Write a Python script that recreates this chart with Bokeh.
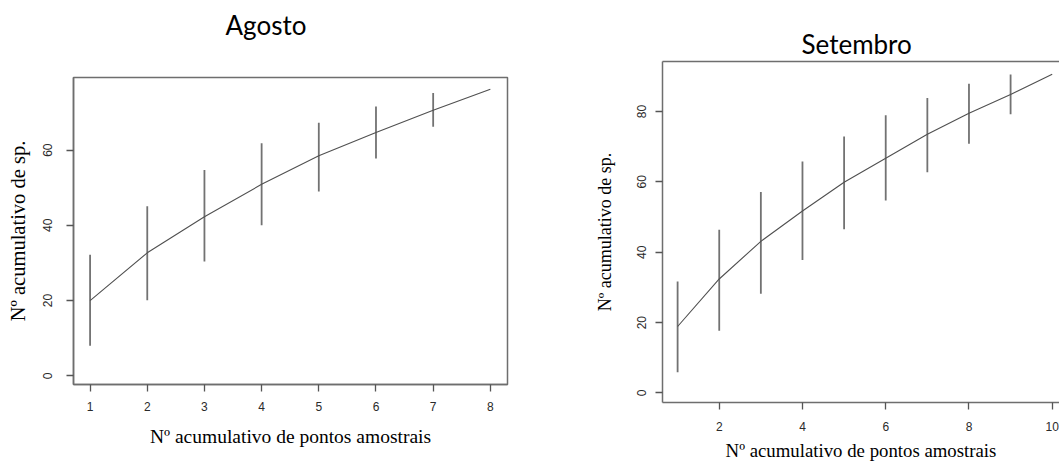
from bokeh.plotting import figure
from bokeh.layouts import row
from bokeh.models import Range1d, FixedTicker, LinearAxis, Title
from bokeh.embed import file_html
from bokeh.resources import INLINE

# ---- data: Agosto ----
ago_x = [1, 2, 3, 4, 5, 6, 7, 8]
ago_mean = [20.0, 32.7, 42.3, 50.9, 58.5, 64.7, 70.6, 76.2]
ago_bar_x = [1, 2, 3, 4, 5, 6, 7]
ago_upper = [32.2, 45.1, 54.7, 61.8, 67.3, 71.6, 75.2]
ago_lower = [8.0, 20.1, 30.4, 40.0, 49.0, 57.8, 66.2]
ago_xticks = [1, 2, 3, 4, 5, 6, 7, 8]
ago_yticks = [0, 20, 40, 60]

# ---- data: Setembro ----
set_x = [1, 2, 3, 4, 5, 6, 7, 8, 9, 10]
set_mean = [18.9, 32.4, 43.1, 51.7, 59.9, 66.7, 73.5, 79.5, 84.8, 90.6]
set_bar_x = [1, 2, 3, 4, 5, 6, 7, 8, 9]
set_upper = [31.7, 46.4, 57.1, 65.8, 72.9, 78.9, 83.8, 87.9, 90.5]
set_lower = [5.9, 17.7, 28.2, 37.8, 46.5, 54.7, 62.7, 70.8, 79.2]
set_xticks = [2, 4, 6, 8, 10]
set_yticks = [0, 20, 40, 60, 80]

x_label = "Nº acumulativo de pontos amostrais"
y_label = "Nº acumulativo de sp."
titles = ["Agosto", "Setembro"]

BOX = "#6e6e6e"
BAR = "#727272"
CURVE = "#505050"
TICKLBL = "#2a2a2a"


def style_axis(ax, size_lbl, lbl_standoff, tick_standoff):
    ax.axis_line_color = BOX
    ax.axis_line_width = 1.5
    ax.major_tick_line_color = "#555555"
    ax.major_tick_line_width = 1.3
    ax.major_tick_out = 7
    ax.major_tick_in = 0
    ax.minor_tick_line_color = None
    ax.minor_tick_out = 0
    ax.major_label_text_font = "Liberation Sans"
    ax.major_label_text_font_size = "12px"
    ax.major_label_text_color = TICKLBL
    ax.major_label_standoff = tick_standoff
    ax.axis_label_text_font = "Liberation Serif"
    ax.axis_label_text_font_size = size_lbl
    ax.axis_label_text_font_style = "normal"
    ax.axis_label_text_color = "black"
    ax.axis_label_standoff = lbl_standoff


def make_title(text, offset, standoff):
    return Title(text=text, text_font="Lato", text_font_size="26px",
                 text_font_style="normal", text_color="black",
                 align="left", offset=offset, standoff=standoff,
                 vertical_align="bottom")


# ---- left plot ----
p1 = figure(width=530, height=464, output_backend="svg", toolbar_location=None,
            x_range=Range1d(0.71, 8.30), y_range=Range1d(-2.3, 79.3), frame_align=False,
            min_border_left=73, min_border_right=23, min_border_top=77, min_border_bottom=80)
p1.title.text = ""
p1.grid.visible = False
p1.outline_line_color = BOX
p1.outline_line_width = 1.5
p1.background_fill_color = "white"
p1.border_fill_color = "white"
p1.xaxis.ticker = FixedTicker(ticks=ago_xticks)
p1.yaxis.ticker = FixedTicker(ticks=ago_yticks)
p1.xaxis.axis_label = x_label
p1.yaxis.axis_label = y_label
style_axis(p1.xaxis[0], "19.5px", 12, 10)
style_axis(p1.yaxis[0], "20.5px", 12, 14)
p1.yaxis.major_label_orientation = "vertical"
p1.segment(x0=ago_bar_x, y0=ago_lower, x1=ago_bar_x, y1=ago_upper,
           line_color=BAR, line_width=1.8)
p1.line(ago_x, ago_mean, line_color=CURVE, line_width=1.1)
# spacer (nearest the frame) pushes the title up
p1.add_layout(Title(text=" ", text_font_size="1px", standoff=34), "above")
p1.add_layout(make_title(titles[0], 152, 0), "above")

# ---- right plot ----
p2 = figure(width=529, height=464, output_backend="svg", toolbar_location=None,
            x_range=Range1d(0.637, 10.175), y_range=Range1d(-2.7, 94.2), frame_align=False,
            min_border_left=132, min_border_right=0, min_border_top=61, min_border_bottom=62)
p2.title.text = ""
p2.grid.visible = False
p2.outline_line_color = None
p2.background_fill_color = "white"
p2.border_fill_color = "white"
p2.xaxis.ticker = FixedTicker(ticks=set_xticks)
p2.yaxis.ticker = FixedTicker(ticks=set_yticks)
p2.xaxis.axis_label = x_label
p2.yaxis.axis_label = y_label
style_axis(p2.xaxis[0], "18.8px", 6, 12)
style_axis(p2.yaxis[0], "18px", 20, 9)
p2.yaxis.major_label_orientation = "vertical"
top_ax = LinearAxis(ticker=FixedTicker(ticks=[]))
top_ax.axis_line_color = BOX
top_ax.axis_line_width = 1.5
top_ax.major_tick_line_color = None
top_ax.minor_tick_line_color = None
top_ax.major_tick_out = 0
top_ax.minor_tick_out = 0
top_ax.major_label_standoff = 0
top_ax.axis_label_standoff = 0
p2.add_layout(top_ax, "above")
p2.add_layout(make_title(titles[1], 139, 4), "above")
p2.segment(x0=set_bar_x, y0=set_lower, x1=set_bar_x, y1=set_upper,
           line_color=BAR, line_width=1.8)
p2.line(set_x, set_mean, line_color=CURVE, line_width=1.1)

layout = row(p1, p2, spacing=0)
open("out.html", "w").write(file_html(layout, INLINE))
